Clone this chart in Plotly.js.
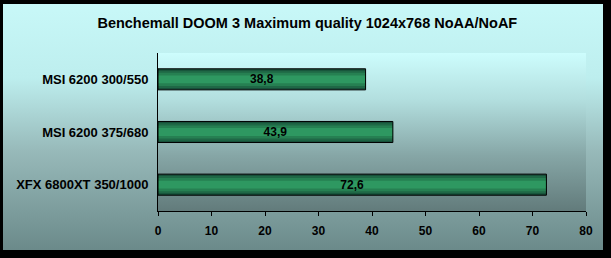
<!DOCTYPE html>
<html>
<head>
<meta charset="utf-8">
<script src="https://cdn.plot.ly/plotly-3.0.1.min.js"></script>
<style>
html,body{margin:0;padding:0;background:#000;width:611px;height:258px;overflow:hidden;}
#frame{position:absolute;left:3px;top:4px;width:600px;height:246px;
  background:linear-gradient(to bottom,#c8f8f8 0%,#bdeeee 30%,#97b9b9 60%,#6b8a8a 100%);}
#plotbg{position:absolute;left:158px;top:53px;width:428px;height:158px;
  background:linear-gradient(to bottom,#cdfdfd 0%,#b2dede 30%,#86a6a6 65%,#627b7b 100%);}
#chart{position:absolute;left:0;top:0;width:611px;height:258px;}
</style>
</head>
<body>
<div id="frame"></div>
<div id="plotbg"></div>
<div id="chart"></div>
<script>
const categories = ["MSI 6200 300/550", "MSI 6200 375/680", "XFX 6800XT 350/1000"];
const values = [38.8, 43.9, 72.6];
const chartTitle = "Benchemall DOOM 3 Maximum quality 1024x768 NoAA/NoAF";
const xTicks = [0, 10, 20, 30, 40, 50, 60, 70, 80];

const FONT = "Liberation Sans, Arial, sans-serif";

function layer(width, color, extra) {
  return Object.assign({
    type: "bar", orientation: "h", x: values, y: categories,
    width: width, marker: {color: color, line: {width: 0}},
    hoverinfo: "skip", textposition: "none", showlegend: false
  }, extra || {});
}

const traces = [
  layer(0.40, "#17503a"),
  layer(0.33, "#1f6846"),
  layer(0.25, "#268052"),
  layer(0.15, "#2e9861"),
  layer(0.40, "rgba(0,0,0,0)", {
    marker: {color: "rgba(0,0,0,0)", line: {color: "#000", width: 1}},
    text: values.map(v => v), texttemplate: "%{x}",
    textposition: "inside", insidetextanchor: "middle",
    textfont: {family: FONT, size: 12, color: "#000", weight: "bold"},
    constraintext: "none"
  })
];

const layout = {
  width: 611, height: 258,
  margin: {l: 158, r: 25, t: 53, b: 47},
  paper_bgcolor: "rgba(0,0,0,0)", plot_bgcolor: "rgba(0,0,0,0)",
  barmode: "overlay",
  separators: ",.",
  title: {text: "<b>" + chartTitle + "</b>", x: 0.503, xanchor: "center", y: 0.91, yanchor: "middle",
          font: {family: FONT, size: 14.5, color: "#000"}},
  xaxis: {range: [0, 80], tickvals: xTicks, ticktext: xTicks.map(String),
          showgrid: false, zeroline: false, showline: true, linecolor: "#000", linewidth: 1,
          ticks: "outside", ticklen: 4, tickcolor: "#000", ticklabelstandoff: 5,
          tickfont: {family: FONT, size: 12, color: "#000", weight: "bold"}, fixedrange: true},
  yaxis: {categoryorder: "array", categoryarray: categories, autorange: "reversed",
          showgrid: false, zeroline: false, showline: true, linecolor: "#000", linewidth: 1,
          ticks: "", ticklabelstandoff: 6,
          tickfont: {family: FONT, size: 13, color: "#000", weight: "bold"}, fixedrange: true},
  font: {family: FONT}
};

Plotly.newPlot("chart", traces, layout, {displayModeBar: false, staticPlot: true});
</script>
</body>
</html>
